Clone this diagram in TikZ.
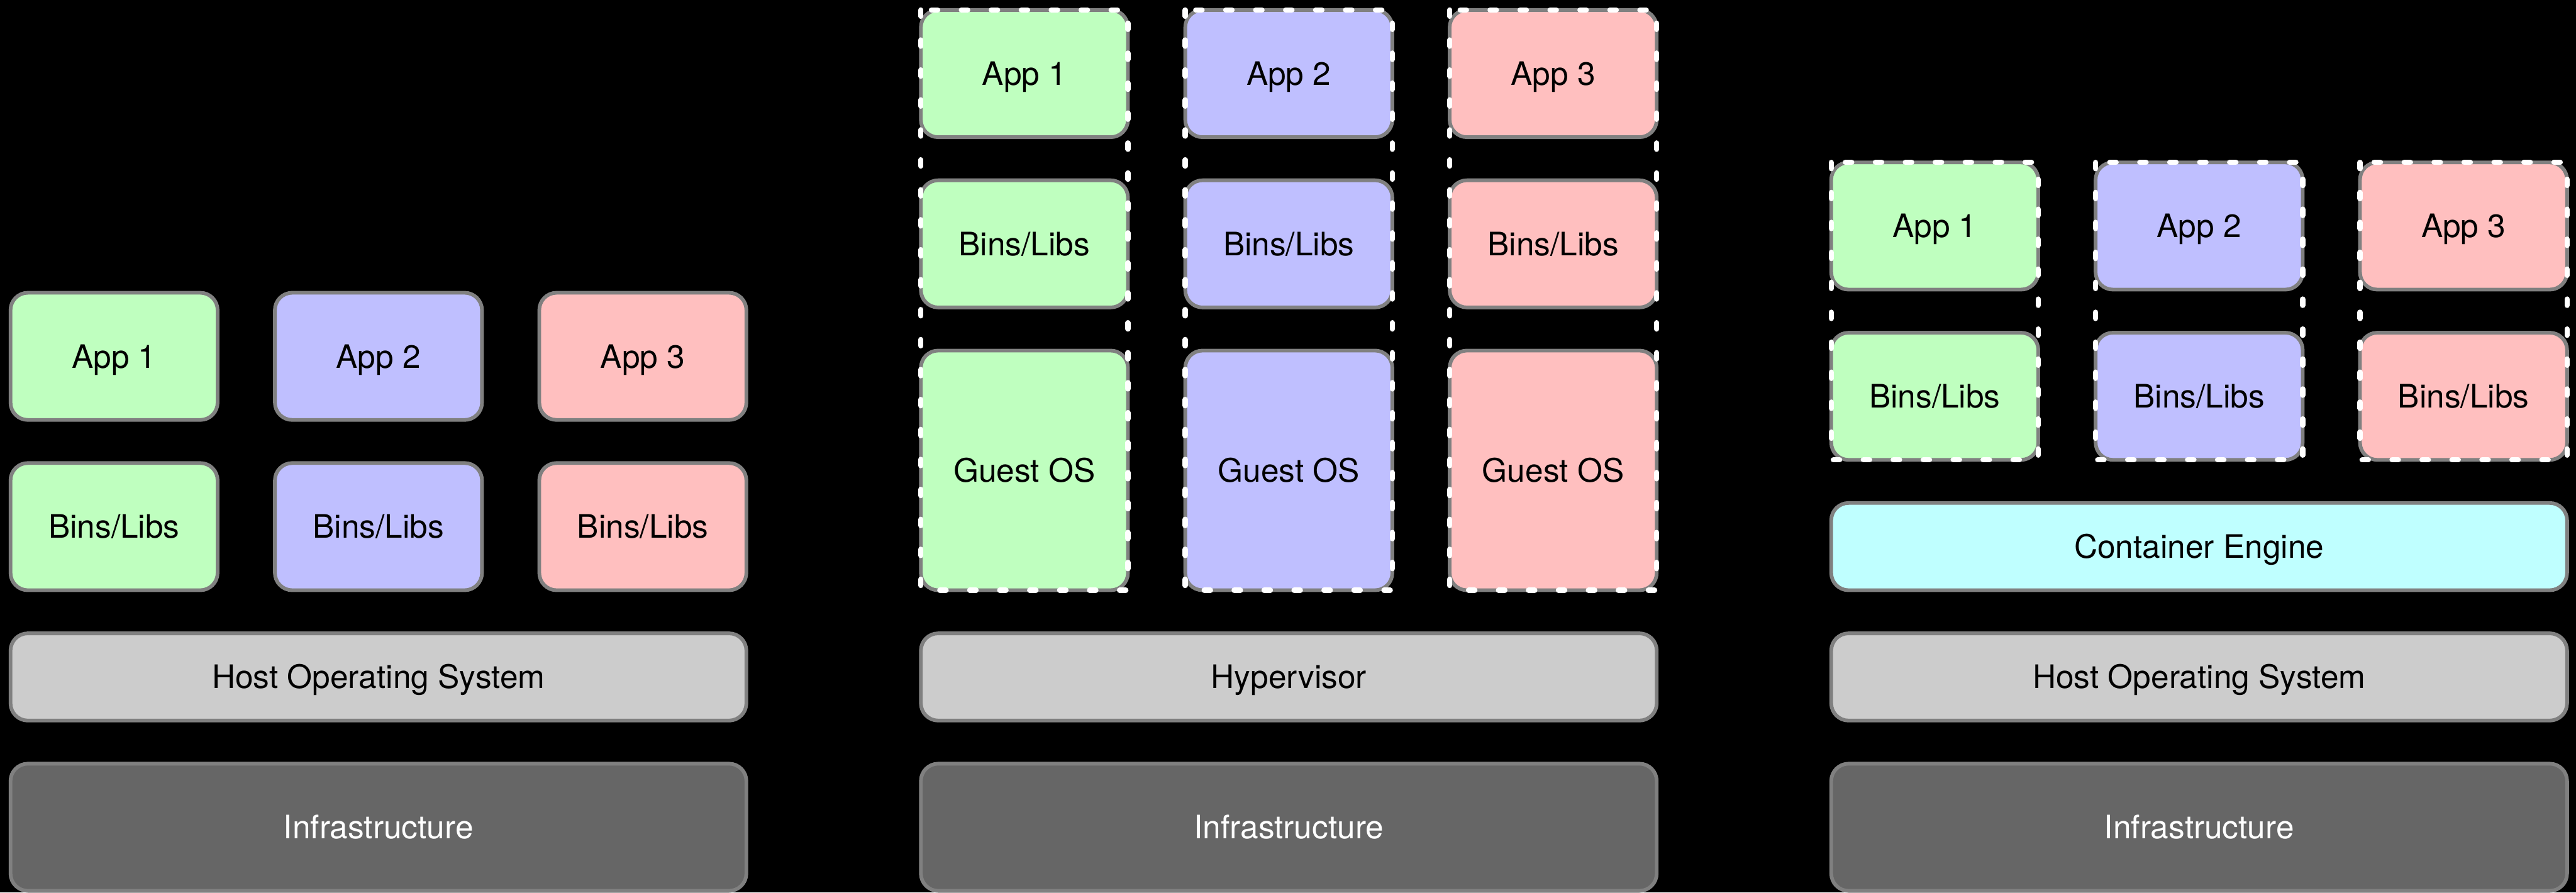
\documentclass[tikz,border=0pt]{standalone}
\usepackage{fontspec}
\setmainfont{TeX Gyre Heros}
\usetikzlibrary{positioning}

\definecolor{appgreen}{RGB}{191,255,191}
\definecolor{appblue}{RGB}{191,191,255}
\definecolor{appred}{RGB}{255,191,191}
\definecolor{enginecyan}{RGB}{191,255,255}
\definecolor{layergray}{RGB}{204,204,204}
\definecolor{infragray}{RGB}{102,102,102}
\definecolor{edgegray}{RGB}{128,128,128}

\begin{document}
\begin{tikzpicture}[node distance=16.4pt and 21.8pt,
        box/.style={draw=edgegray, line width=1.4pt, rounded corners=6.6pt,
            inner sep=0pt, outer sep=0pt, minimum width=78.8pt, minimum height=48.4pt,
            text height=8.8pt, text depth=0pt, font=\fontsize{12.3}{14}\selectfont},
        bar/.style={box, fill=layergray, minimum width=280pt, minimum height=33.2pt},
        infra/.style={box, fill=infragray, text=white, minimum width=280pt},
        guest/.style={box, minimum height=91.2pt},
        frame/.style={draw=white, line width=2pt, line cap=round,
            dash pattern=on 2.4pt off 9pt}]

        % Background
        \fill[black] (0,0) rectangle (980.2pt,-339.6pt);
        \useasboundingbox (0,0) rectangle (980.2pt,-339.6pt);

        % Left stack: apps on host
        \node[infra] (infraL) at (4pt,-339pt) [anchor=south west] {Infrastructure};
        \node[bar] (hostL) [above=of infraL] {Host Operating System};
        \node[box, fill=appgreen] (binsL1) [above=of hostL.north west, anchor=south west] {Bins/Libs};
        \node[box, fill=appblue] (binsL2) [right=of binsL1] {Bins/Libs};
        \node[box, fill=appred] (binsL3) [right=of binsL2] {Bins/Libs};
        \node[box, fill=appgreen] (appL1) [above=of binsL1] {App 1};
        \node[box, fill=appblue] (appL2) [above=of binsL2] {App 2};
        \node[box, fill=appred] (appL3) [above=of binsL3] {App 3};

        % Middle stack: virtual machines
        \node[infra] (infraM) at (350.4pt,-339pt) [anchor=south west] {Infrastructure};
        \node[bar] (hyperM) [above=of infraM] {Hypervisor};
        \node[guest, fill=appgreen] (guestM1) [above=of hyperM.north west, anchor=south west] {Guest OS};
        \node[guest, fill=appblue] (guestM2) [right=of guestM1] {Guest OS};
        \node[guest, fill=appred] (guestM3) [right=of guestM2] {Guest OS};
        \node[box, fill=appgreen] (binsM1) [above=of guestM1] {Bins/Libs};
        \node[box, fill=appblue] (binsM2) [above=of guestM2] {Bins/Libs};
        \node[box, fill=appred] (binsM3) [above=of guestM3] {Bins/Libs};
        \node[box, fill=appgreen] (appM1) [above=of binsM1] {App 1};
        \node[box, fill=appblue] (appM2) [above=of binsM2] {App 2};
        \node[box, fill=appred] (appM3) [above=of binsM3] {App 3};

        % Right stack: containers
        \node[infra] (infraR) at (696.8pt,-339pt) [anchor=south west] {Infrastructure};
        \node[bar] (hostR) [above=of infraR] {Host Operating System};
        \node[bar, fill=enginecyan] (engineR) [above=of hostR] {Container Engine};
        \node[box, fill=appgreen] (binsR1) [above=of engineR.north west, anchor=south west] {Bins/Libs};
        \node[box, fill=appblue] (binsR2) [right=of binsR1] {Bins/Libs};
        \node[box, fill=appred] (binsR3) [right=of binsR2] {Bins/Libs};
        \node[box, fill=appgreen] (appR1) [above=of binsR1] {App 1};
        \node[box, fill=appblue] (appR2) [above=of binsR2] {App 2};
        \node[box, fill=appred] (appR3) [above=of binsR3] {App 3};

        % Dashed outlines
        \draw[frame] (appM1.north west) rectangle (guestM1.south east);
        \draw[frame] (appM2.north west) rectangle (guestM2.south east);
        \draw[frame] (appM3.north west) rectangle (guestM3.south east);
        \draw[frame] (appR1.north west) rectangle (binsR1.south east);
        \draw[frame] (appR2.north west) rectangle (binsR2.south east);
        \draw[frame] (appR3.north west) rectangle (binsR3.south east);

\end{tikzpicture}
\end{document}
